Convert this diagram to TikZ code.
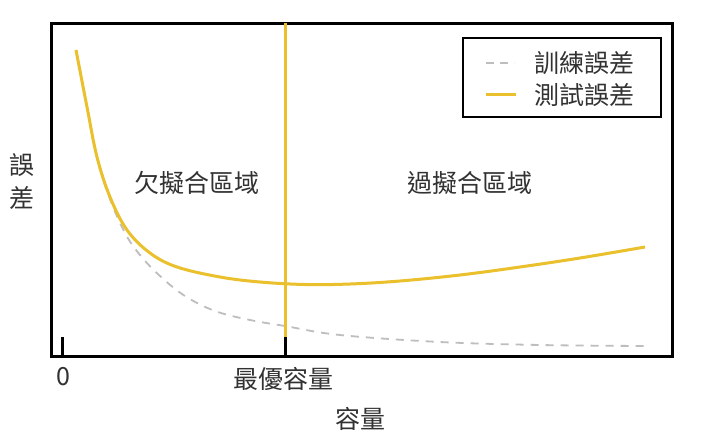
\documentclass[tikz,border=0pt]{standalone}
\usepackage{fontspec}
\setmainfont{Noto Sans CJK TC}
\definecolor{curveyellow}{RGB}{234,192,44}
\definecolor{traingray}{RGB}{190,190,190}
\definecolor{txtgray}{RGB}{50,50,50}
\begin{document}
\begin{tikzpicture}[x=1pt,y=-1pt,
  lbl/.style={font=\fontsize{25}{27}\selectfont, text=txtgray, inner sep=0pt},
  testline/.style={draw=curveyellow, line width=3pt},
  trainline/.style={draw=traingray, line width=1.8pt, dash pattern=on 8pt off 7pt},
  framebox/.style={draw=black, line width=3pt},
  tickline/.style={draw=black, line width=3pt}]
\useasboundingbox (0,0) rectangle (703,447);
\fill[white] (0,0) rectangle (703,447);
% frame
\draw[framebox] (51,23) rectangle (672,356);
% curves
\draw[trainline] plot[smooth, tension=0.6] coordinates {(76,50) (87,107) (97,158) (110,199) (125,233) (140,255) (160,276) (185,296) (215,311) (250,320) (285,326) (340,335) (440,342) (540,345) (645,346)};
\draw[testline] plot[smooth, tension=0.6] coordinates {(76,50) (87,107) (97,157) (110,197) (127,230) (150,253) (177,267) (220,277) (260,282) (305,284.5) (350,284) (400,281) (460,275) (520,267) (580,258) (645,247)};
% optimal capacity line and ticks
\coordinate (opttop) at (285,23);
\coordinate (optmid) at (285,337);
\coordinate (optbot) at (285,356);
\coordinate (zmid) at (62,337);
\coordinate (zbot) at (62,356);
\draw[draw=curveyellow, line width=3pt] (opttop) -- (optmid);
\draw[tickline] (optmid) -- (optbot);
\draw[tickline] (zmid) -- (zbot);
% labels
\node[lbl] (zero) at (63,377) {0};
\node[lbl] (opt) at (283,379) {最優容量};
\node[lbl] (xlab) at (360,419) {容量};
\node[lbl, align=center] (ylab) at (22,182) {誤\\[6pt]差};
\node[lbl] (under) at (197,183) {欠擬合區域};
\node[lbl] (over) at (470,183) {過擬合區域};
% legend
\node[draw=black, line width=1.8pt, minimum width=198pt, minimum height=79pt, inner sep=0pt] (legend) at (562,77.5) {};
\coordinate (la1) at (486,63);
\coordinate (la2) at (514,63);
\coordinate (lb1) at (486,94);
\coordinate (lb2) at (516,94);
\draw[draw=traingray, line width=1.5pt, dash pattern=on 8pt off 6pt] (la1) -- (la2);
\draw[draw=curveyellow, line width=3pt] (lb1) -- (lb2);
\node[lbl, anchor=west] (traintxt) at (534,63) {訓練誤差};
\node[lbl, anchor=west] (testtxt) at (534,95) {測試誤差};
\end{tikzpicture}
\end{document}
